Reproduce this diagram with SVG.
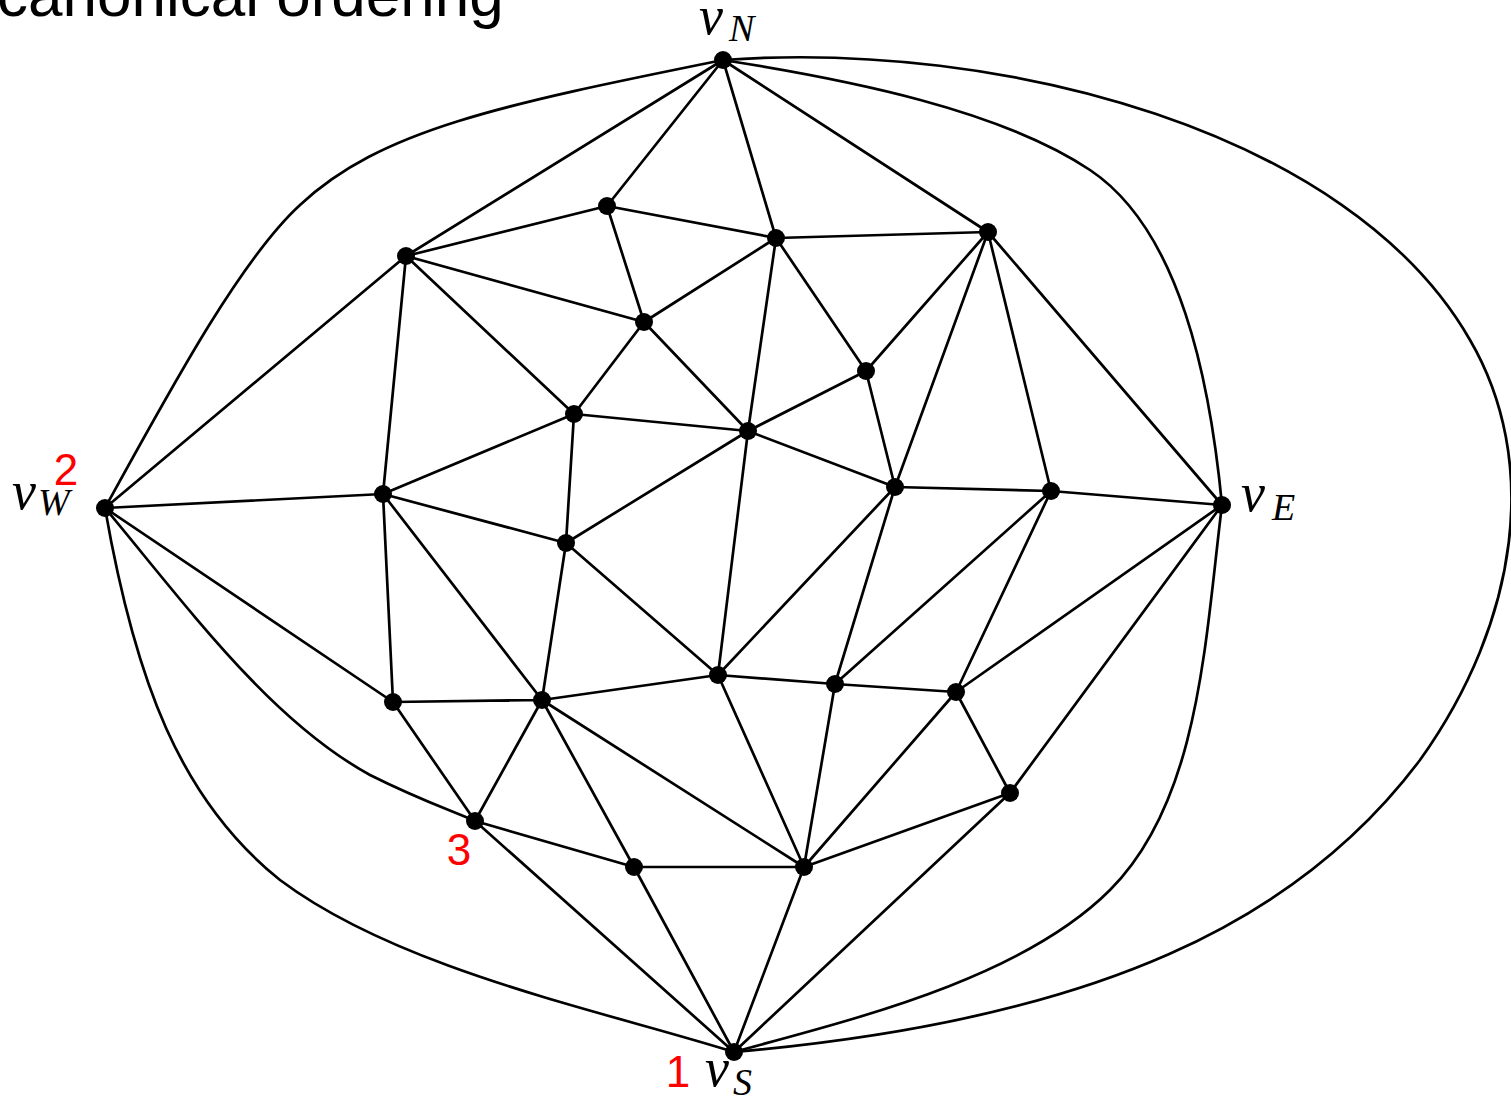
<svg xmlns="http://www.w3.org/2000/svg" width="1511" height="1100" viewBox="0 0 1511 1100">
<style>
.e{stroke:#000;stroke-width:2.7;fill:none;stroke-linecap:round}
.n{fill:#000}
.t{font-family:"Liberation Sans",Arial,sans-serif;font-size:62px;fill:#000}
.m{font-family:"Liberation Serif","Times New Roman",serif;font-style:italic;fill:#000}
.v{font-size:54px}
.s{font-size:38px}
.r{font-family:"Liberation Sans",Arial,sans-serif;font-size:44px;fill:#ff0000;text-anchor:middle}
</style>
<rect width="1511" height="1100" fill="#fff"/>
<text class="t" x="-3" y="16">canonical ordering</text>
<g id="connectors">
<path class="e" d="M105,508 C170,390 240,260 300,205 C380,130 500,105 723,60"/>
<path class="e" d="M723,60 C850,80 1000,110 1090,170 C1180,230 1210,380 1222,505"/>
<path class="e" d="M723,60 C1000,40 1350,130 1470,340 C1540,460 1520,620 1420,760 C1300,920 1100,1020 734,1052"/>
<path class="e" d="M1222,505 C1205,640 1200,800 1110,890 C1020,980 850,1020 734,1052"/>
<path class="e" d="M105,508 C135,680 180,800 280,880 C400,970 600,1010 734,1052"/>
<path class="e" d="M105,508 C190,610 270,720 370,775 C420,800 450,810 475,821"/>
<path class="e" d="M723,60L406,256M723,60L607,206M723,60L776,238M723,60L988,232
M105,508L406,256M105,508L383,494M105,508L393,702
M406,256L607,206M406,256L644,322M406,256L574,414M406,256L383,494
M607,206L776,238M607,206L644,322
M776,238L988,232M776,238L644,322M776,238L866,371M776,238L748,431
M988,232L866,371M988,232L895,487M988,232L1051,491M988,232L1222,505
M644,322L574,414M644,322L748,431
M574,414L748,431M574,414L383,494M574,414L566,543
M866,371L748,431M748,431L895,487M748,431L566,543M748,431L718,675
M866,371L895,487
M383,494L566,543M383,494L393,702M383,494L542,700
M895,487L1051,491M895,487L718,675M895,487L835,684
M1051,491L1222,505M1051,491L835,684M1051,491L956,692
M1222,505L956,692M1222,505L1010,793
M566,543L718,675M566,543L542,700
M718,675L542,700M718,675L835,684M718,675L804,867
M835,684L956,692M835,684L804,867
M956,692L1010,793M956,692L804,867
M1010,793L804,867M1010,793L734,1052
M393,702L542,700M393,702L475,821
M542,700L475,821M542,700L634,867M542,700L804,867
M475,821L634,867M475,821L734,1052
M634,867L804,867M634,867L734,1052
M804,867L734,1052"/>
</g>
<g id="vN"><circle class="n" cx="723" cy="60" r="9"/><text class="m"><tspan class="v" x="699" y="34">v</tspan><tspan class="s" x="729" y="41">N</tspan></text></g>
<g id="vW"><circle class="n" cx="105" cy="508" r="9"/><text class="m"><tspan class="v" x="12" y="509">v</tspan><tspan class="s" x="38" y="515">W</tspan></text><text class="r" x="66" y="485">2</text></g>
<g id="vE"><circle class="n" cx="1222" cy="505" r="9"/><text class="m"><tspan class="v" x="1241" y="511">v</tspan><tspan class="s" x="1272" y="520">E</tspan></text></g>
<g id="vS"><circle class="n" cx="734" cy="1052" r="9"/><text class="m"><tspan class="v" x="705" y="1086">v</tspan><tspan class="s" x="733" y="1095">S</tspan></text><text class="r" x="678" y="1087">1</text></g>
<g id="n1"><circle class="n" cx="607" cy="206" r="9"/></g>
<g id="n2"><circle class="n" cx="406" cy="256" r="9"/></g>
<g id="n3"><circle class="n" cx="776" cy="238" r="9"/></g>
<g id="n4"><circle class="n" cx="988" cy="232" r="9"/></g>
<g id="n5"><circle class="n" cx="644" cy="322" r="9"/></g>
<g id="n6"><circle class="n" cx="866" cy="371" r="9"/></g>
<g id="n7"><circle class="n" cx="574" cy="414" r="9"/></g>
<g id="n8"><circle class="n" cx="748" cy="431" r="9"/></g>
<g id="n9"><circle class="n" cx="383" cy="494" r="9"/></g>
<g id="n10"><circle class="n" cx="895" cy="487" r="9"/></g>
<g id="n11"><circle class="n" cx="1051" cy="491" r="9"/></g>
<g id="n12"><circle class="n" cx="566" cy="543" r="9"/></g>
<g id="n13"><circle class="n" cx="718" cy="675" r="9"/></g>
<g id="n14"><circle class="n" cx="835" cy="684" r="9"/></g>
<g id="n15"><circle class="n" cx="956" cy="692" r="9"/></g>
<g id="n16"><circle class="n" cx="393" cy="702" r="9"/></g>
<g id="n17"><circle class="n" cx="542" cy="700" r="9"/></g>
<g id="n18"><circle class="n" cx="475" cy="821" r="9"/><text class="r" x="459" y="865">3</text></g>
<g id="n19"><circle class="n" cx="1010" cy="793" r="9"/></g>
<g id="n20"><circle class="n" cx="634" cy="867" r="9"/></g>
<g id="n21"><circle class="n" cx="804" cy="867" r="9"/></g>
</svg>
